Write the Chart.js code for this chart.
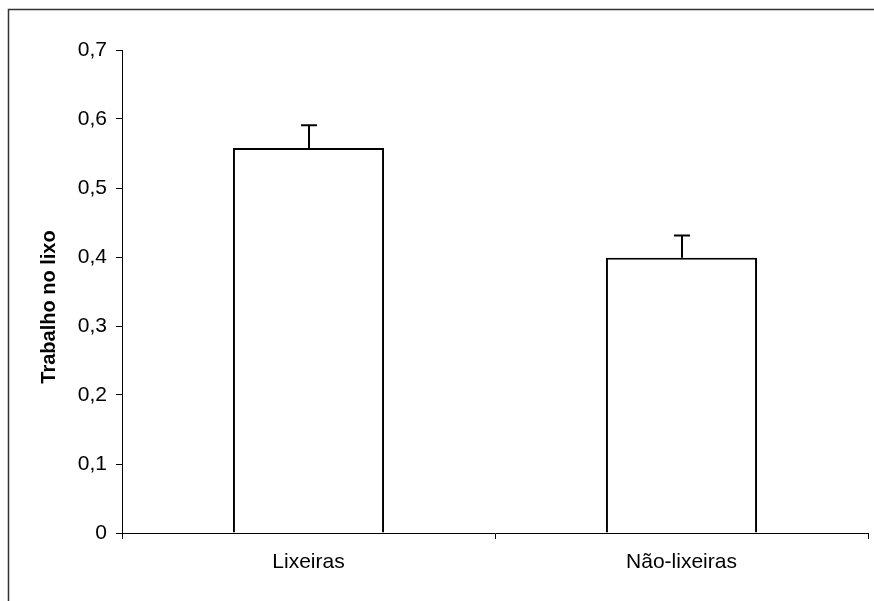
<!DOCTYPE html>
<html>
<head>
<meta charset="utf-8">
<script src="https://cdn.jsdelivr.net/npm/chart.js@4"></script>
<style>
  html, body { margin: 0; padding: 0; background: #fff; overflow: hidden; }
  #wrap { width: 874px; height: 601px; position: relative; }
</style>
</head>
<body>
<div id="wrap"><canvas id="chart" width="874" height="601"></canvas></div>
<script>
// data
const categories = ["Lixeiras", "Não-lixeiras"];
const means = [0.558, 0.399];
const errors = [0.033, 0.032];
const yTicks = [0, 0.1, 0.2, 0.3, 0.4, 0.5, 0.6, 0.7];
const yTitle = "Trabalho no lixo";

const FONT = "Liberation Sans, Arial, sans-serif";

// outer frame (only top and left edges fall inside the picture)
const framePlugin = {
  id: "frame",
  beforeDraw(chart) {
    const ctx = chart.ctx;
    ctx.save();
    ctx.strokeStyle = "#333";
    ctx.lineWidth = 1.5;
    ctx.beginPath();
    ctx.moveTo(8.5, 1000);
    ctx.lineTo(8.5, 9.5);
    ctx.lineTo(1000, 9.5);
    ctx.stroke();

    // y axis title, sits a bit below the axis middle like the original
    ctx.fillStyle = "#000";
    ctx.font = "bold 20px " + FONT;
    ctx.textAlign = "center";
    ctx.textBaseline = "middle";
    ctx.translate(49, 307);
    ctx.rotate(-Math.PI / 2);
    ctx.fillText(yTitle, 0, 0);
    ctx.restore();
  },
};

// upper error bars drawn through the scales
const errorBarPlugin = {
  id: "errorBars",
  afterDatasetsDraw(chart) {
    const ctx = chart.ctx;
    const y = chart.scales.y;
    const meta = chart.getDatasetMeta(0);
    ctx.save();
    ctx.strokeStyle = "#000";
    ctx.lineWidth = 2;
    meta.data.forEach((bar, i) => {
      const top = y.getPixelForValue(means[i] + errors[i]);
      const base = y.getPixelForValue(means[i]);
      const x = Math.round(bar.x);
      ctx.beginPath();
      ctx.moveTo(x, base);
      ctx.lineTo(x, top);
      ctx.moveTo(x - 8, top);
      ctx.lineTo(x + 8, top);
      ctx.stroke();
    });
    ctx.restore();
  },
};

new Chart(document.getElementById("chart"), {
  type: "bar",
  data: {
    labels: categories,
    datasets: [
      {
        data: means,
        backgroundColor: "#fff",
        borderColor: "#000",
        borderWidth: 2,
        barPercentage: 0.405,
        categoryPercentage: 1,
      },
    ],
  },
  options: {
    responsive: false,
    animation: false,
    layout: { padding: { top: 50, right: 6, left: 0, bottom: 0 } },
    plugins: {
      legend: { display: false },
      tooltip: { enabled: false },
    },
    scales: {
      x: {
        grid: {
          drawOnChartArea: false,
          tickLength: 6,
          color: "#000",
        },
        border: { color: "#000", width: 1 },
        ticks: {
          color: "#000",
          padding: 11,
          font: { family: FONT, size: 21 },
        },
        afterFit(scale) {
          scale.height = 68;
        },
      },
      y: {
        min: 0,
        max: 0.7,
        afterBuildTicks(scale) {
          scale.ticks = yTicks.map((v) => ({ value: v }));
        },
        grid: {
          drawOnChartArea: false,
          tickLength: 6,
          color: "#000",
        },
        border: { color: "#000", width: 1 },
        ticks: {
          color: "#000",
          padding: 9,
          font: { family: FONT, size: 21 },
          callback: (v) => String(v).replace(".", ","),
        },
        afterFit(scale) {
          scale.width = 122;
        },
      },
    },
  },
  plugins: [framePlugin, errorBarPlugin],
});
</script>
</body>
</html>
